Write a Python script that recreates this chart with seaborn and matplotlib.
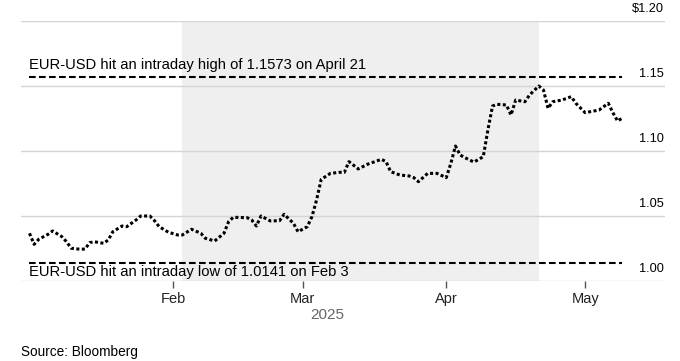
import matplotlib
matplotlib.use("Agg")
from matplotlib import pyplot as plt
import matplotlib.dates as mdates
import pandas as pd
import seaborn as sns

dates = [
    "2025-01-01", "2025-01-02", "2025-01-03", "2025-01-05", "2025-01-06", "2025-01-08",
    "2025-01-09", "2025-01-10", "2025-01-12", "2025-01-13", "2025-01-14", "2025-01-15",
    "2025-01-17", "2025-01-18", "2025-01-19", "2025-01-21", "2025-01-22", "2025-01-24",
    "2025-01-25", "2025-01-27", "2025-01-28", "2025-01-29", "2025-01-31", "2025-02-02",
    "2025-02-03", "2025-02-05", "2025-02-07", "2025-02-08", "2025-02-10", "2025-02-12",
    "2025-02-13", "2025-02-14", "2025-02-17", "2025-02-18", "2025-02-19", "2025-02-20",
    "2025-02-22", "2025-02-24", "2025-02-25", "2025-02-27", "2025-02-28", "2025-03-02",
    "2025-03-03", "2025-03-04", "2025-03-05", "2025-03-07", "2025-03-09", "2025-03-10",
    "2025-03-11", "2025-03-13", "2025-03-15", "2025-03-18", "2025-03-19", "2025-03-20",
    "2025-03-22", "2025-03-24", "2025-03-25", "2025-03-26", "2025-03-28", "2025-03-30",
    "2025-04-01", "2025-04-02", "2025-04-03", "2025-04-04", "2025-04-06", "2025-04-07",
    "2025-04-09", "2025-04-10", "2025-04-11", "2025-04-12", "2025-04-14", "2025-04-15",
    "2025-04-16", "2025-04-18", "2025-04-19", "2025-04-21", "2025-04-22", "2025-04-23",
    "2025-04-24", "2025-04-26", "2025-04-28", "2025-04-29", "2025-05-01", "2025-05-04",
    "2025-05-06", "2025-05-07", "2025-05-08", "2025-05-09",
]
eur_usd = [
    1.0367, 1.0282, 1.0321, 1.0359, 1.0385, 1.0341,
    1.0302, 1.0252, 1.0244, 1.0246, 1.0295, 1.0302,
    1.0290, 1.0315, 1.0379, 1.0423, 1.0418, 1.0469,
    1.0500, 1.0500, 1.0464, 1.0418, 1.0375, 1.0354,
    1.0354, 1.0398, 1.0367, 1.0328, 1.0308, 1.0367,
    1.0456, 1.0490, 1.0487, 1.0469, 1.0423, 1.0500,
    1.0462, 1.0464, 1.0513, 1.0444, 1.0379, 1.0418,
    1.0495, 1.0623, 1.0782, 1.0828, 1.0836, 1.0836,
    1.0918, 1.0862, 1.0898, 1.0936, 1.0918, 1.0841,
    1.0815, 1.0808, 1.0795, 1.0764, 1.0828, 1.0828,
    1.0795, 1.0905, 1.1038, 1.0969, 1.0931, 1.0915,
    1.0956, 1.1162, 1.1346, 1.1359, 1.1354, 1.1277,
    1.1392, 1.1379, 1.1431, 1.1500, 1.1469, 1.1328,
    1.1379, 1.1392, 1.1418, 1.1367, 1.1295, 1.1315,
    1.1367, 1.1295, 1.1231, 1.1252,
]

high_val, high_date = 1.1573, "2025-04-21"
low_val, low_date = 1.0141, "2025-02-03"
y_ticks = [1.00, 1.05, 1.10, 1.15, 1.20]
y_labels = ["1.00", "1.05", "1.10", "1.15", "$1.20"]
month_ticks = ["2025-02-01", "2025-03-01", "2025-04-01", "2025-05-01"]

df = pd.DataFrame({"date": pd.to_datetime(dates), "rate": eur_usd})

sns.set_style("white")
plt.rcParams["font.family"] = ["Liberation Sans", "DejaVu Sans"]

fig = plt.figure(figsize=(6.8, 3.61), dpi=100)
ax = fig.add_axes([21 / 680, 1 - 281 / 361, 644 / 680, 260 / 361])

# shaded window between the low and the high
ax.axvspan(pd.Timestamp(low_date), pd.Timestamp(high_date), color="#efefef", lw=0, zorder=0)

for v in y_ticks:
    ax.axhline(v, color="#d4d4d4", lw=1, zorder=1)

sns.lineplot(data=df, x="date", y="rate", ax=ax, color="black", lw=2.2,
             linestyle=(0, (1, 0.8)), zorder=3)

ax.hlines([high_val, low_val], df["date"].iloc[0], df["date"].iloc[-1],
          colors="black", lw=1.5, linestyles=(0, (3.2, 1.6)), zorder=2)
ax.annotate("EUR-USD hit an intraday high of 1.1573 on April 21",
            (df["date"].iloc[0], high_val), xytext=(0, 3), textcoords="offset points",
            ha="left", va="bottom", fontsize=10.6, color="black")
ax.annotate("EUR-USD hit an intraday low of 1.0141 on Feb 3",
            (df["date"].iloc[0], low_val), xytext=(0, -2), textcoords="offset points",
            ha="left", va="top", fontsize=10.6, color="black")

for v, lab in zip(y_ticks, y_labels):
    ax.annotate(lab, (1.0, v), xycoords=ax.get_yaxis_transform(), xytext=(-1, 4),
                textcoords="offset points", ha="right", va="bottom", fontsize=9.2,
                color="black")

ax.set_xlim(pd.Timestamp("2024-12-30 04:00"), pd.Timestamp("2025-05-18 06:00"))
ax.set_ylim(1.00, 1.20)
ax.set_yticks([])
ax.set_xticks(pd.to_datetime(month_ticks))
ax.xaxis.set_major_formatter(mdates.DateFormatter("%b"))
ax.tick_params(axis="x", length=5, width=1, color="#555555", pad=3,
               labelsize=10.5, labelcolor="#222222", bottom=True)
ax.set_xlabel("")
ax.set_ylabel("")
for s in ax.spines.values():
    s.set_visible(False)

fig.text(327 / 680, 1 - 315 / 361, "2025", ha="center", va="center",
         fontsize=11, color="#666666")
fig.text(21 / 680, 1 - 352 / 361, "Source: Bloomberg", ha="left", va="center",
         fontsize=9.8, color="black")

fig.savefig("out.png", dpi=100)
